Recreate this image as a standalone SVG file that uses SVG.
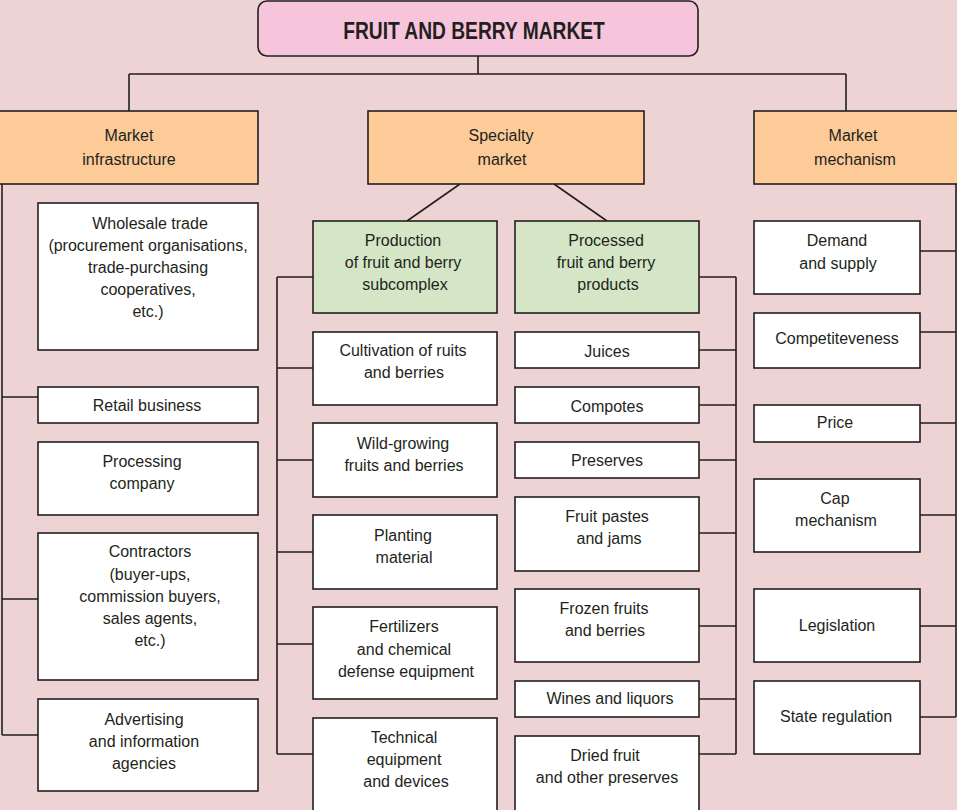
<svg xmlns="http://www.w3.org/2000/svg" width="957" height="810" viewBox="0 0 957 810">
<style>
.bx{stroke:#231f20;stroke-width:1.6}
.w{fill:#ffffff}
.o{fill:#fdcb98}
.g{fill:#d4e6c6}
.t{font-family:"Liberation Sans",Arial,sans-serif;font-size:16px;fill:#231f20;text-anchor:middle}
.h{font-family:"Liberation Sans",Arial,sans-serif;font-size:24px;font-weight:bold;fill:#231f20;text-anchor:middle}
.c{fill:none;stroke:#231f20;stroke-width:1.6}
</style>
<rect width="957" height="810" fill="#eed3d5"/>
<g id="connectors" class="c">
<path d="M478 56V74M129 74H846M129 74V111M846 74V111"/>
<path d="M460 184L407 221M554 184L607 221"/>
<path d="M2 184V735M2 397H38M2 599H38M2 735H38"/>
<path d="M277 277V754M277 277H313M277 368H313M277 460H313M277 552H313M277 644H313M277 754H313"/>
<path d="M736 277V754M699 277H736M699 350H736M699 405H736M699 460H736M699 533H736M699 626H736M699 699H736M699 754H736"/>
<path d="M956 184V717M920 251H956M920 332H956M920 423H956M920 515H956M920 626H956M920 717H956"/>
</g>
<g id="title"><rect class="bx" x="258" y="1" width="440" height="55" rx="9" fill="#f7c5db"/><text class="h" transform="translate(474,38.5) scale(0.8,1)">FRUIT AND BERRY MARKET</text></g>
<g id="infra"><rect class="bx o" x="-2" y="111" width="260" height="73"/><text class="t" x="129" y="141">Market</text><text class="t" x="129" y="165">infrastructure</text></g>
<g id="specialty"><rect class="bx o" x="368" y="111" width="276" height="73"/><text class="t" x="501" y="141">Specialty</text><text class="t" x="502" y="165">market</text></g>
<g id="mechanism"><rect class="bx o" x="754" y="111" width="206" height="73"/><text class="t" x="853" y="141">Market</text><text class="t" x="855" y="165">mechanism</text></g>

<g id="wholesale"><rect class="bx w" x="38" y="203" width="220" height="147"/><text class="t" x="150" y="229">Wholesale trade</text><text class="t" x="148" y="251">(procurement organisations,</text><text class="t" x="148" y="273">trade-purchasing</text><text class="t" x="148" y="295">cooperatives,</text><text class="t" x="148" y="317">etc.)</text></g>
<g id="retail"><rect class="bx w" x="38" y="387" width="220" height="36"/><text class="t" x="147" y="411">Retail business</text></g>
<g id="processing"><rect class="bx w" x="38" y="442" width="220" height="73"/><text class="t" x="142" y="467">Processing</text><text class="t" x="142" y="489">company</text></g>
<g id="contractors"><rect class="bx w" x="38" y="533" width="220" height="147"/><text class="t" x="150" y="557">Contractors</text><text class="t" x="150" y="580">(buyer-ups,</text><text class="t" x="150" y="602">commission buyers,</text><text class="t" x="150" y="624">sales agents,</text><text class="t" x="150" y="646">etc.)</text></g>
<g id="advertising"><rect class="bx w" x="38" y="699" width="220" height="92"/><text class="t" x="144" y="725">Advertising</text><text class="t" x="144" y="747">and information</text><text class="t" x="144" y="769">agencies</text></g>

<g id="production"><rect class="bx g" x="313" y="221" width="184" height="92"/><text class="t" x="403" y="246">Production</text><text class="t" x="403" y="268">of fruit and berry</text><text class="t" x="405" y="290">subcomplex</text></g>
<g id="cultivation"><rect class="bx w" x="313" y="332" width="184" height="73"/><text class="t" x="403" y="356">Cultivation of ruits</text><text class="t" x="404" y="378">and berries</text></g>
<g id="wild"><rect class="bx w" x="313" y="423" width="184" height="74"/><text class="t" x="403" y="449">Wild-growing</text><text class="t" x="404" y="471">fruits and berries</text></g>
<g id="planting"><rect class="bx w" x="313" y="515" width="184" height="74"/><text class="t" x="403" y="541">Planting</text><text class="t" x="404" y="563">material</text></g>
<g id="fertilizers"><rect class="bx w" x="313" y="607" width="184" height="92"/><text class="t" x="404" y="632">Fertilizers</text><text class="t" x="404" y="655">and chemical</text><text class="t" x="406" y="677">defense equipment</text></g>
<g id="technical"><rect class="bx w" x="313" y="718" width="184" height="94"/><text class="t" x="404" y="743">Technical</text><text class="t" x="404" y="765">equipment</text><text class="t" x="406" y="787">and devices</text></g>

<g id="processed"><rect class="bx g" x="515" y="221" width="184" height="92"/><text class="t" x="606" y="246">Processed</text><text class="t" x="606" y="268">fruit and berry</text><text class="t" x="608" y="290">products</text></g>
<g id="juices"><rect class="bx w" x="515" y="332" width="184" height="36"/><text class="t" x="607" y="357">Juices</text></g>
<g id="compotes"><rect class="bx w" x="515" y="387" width="184" height="36"/><text class="t" x="607" y="412">Compotes</text></g>
<g id="preserves"><rect class="bx w" x="515" y="442" width="184" height="36"/><text class="t" x="607" y="466">Preserves</text></g>
<g id="pastes"><rect class="bx w" x="515" y="497" width="184" height="74"/><text class="t" x="607" y="522">Fruit pastes</text><text class="t" x="609" y="544">and jams</text></g>
<g id="frozen"><rect class="bx w" x="515" y="589" width="184" height="73"/><text class="t" x="604" y="614">Frozen fruits</text><text class="t" x="605" y="636">and berries</text></g>
<g id="wines"><rect class="bx w" x="515" y="681" width="184" height="36"/><text class="t" x="610" y="704">Wines and liquors</text></g>
<g id="dried"><rect class="bx w" x="515" y="736" width="184" height="76"/><text class="t" x="605" y="761">Dried fruit</text><text class="t" x="607" y="783">and other preserves</text></g>

<g id="demand"><rect class="bx w" x="754" y="221" width="166" height="73"/><text class="t" x="837" y="246">Demand</text><text class="t" x="838" y="269">and supply</text></g>
<g id="competiteveness"><rect class="bx w" x="754" y="313" width="166" height="55"/><text class="t" x="837" y="344">Competiteveness</text></g>
<g id="price"><rect class="bx w" x="754" y="405" width="166" height="37"/><text class="t" x="835" y="428">Price</text></g>
<g id="cap"><rect class="bx w" x="754" y="479" width="166" height="73"/><text class="t" x="835" y="504">Cap</text><text class="t" x="836" y="526">mechanism</text></g>
<g id="legislation"><rect class="bx w" x="754" y="589" width="166" height="73"/><text class="t" x="837" y="631">Legislation</text></g>
<g id="state"><rect class="bx w" x="754" y="681" width="166" height="73"/><text class="t" x="836" y="722">State regulation</text></g>
</svg>
